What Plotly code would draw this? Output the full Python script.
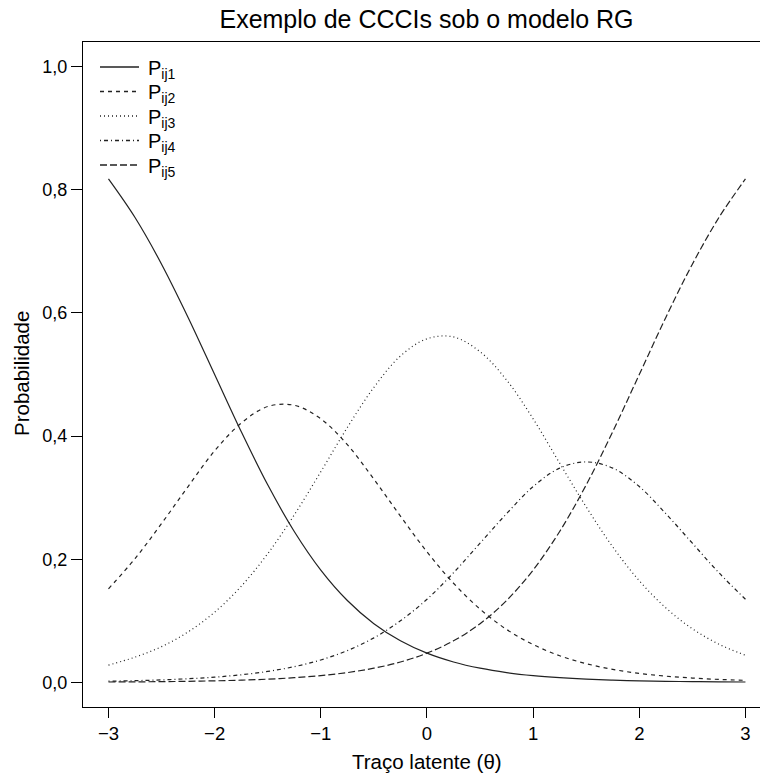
import plotly.graph_objects as go

theta = [-3.0, -2.75, -2.5, -2.25, -2.0, -1.75, -1.5, -1.25, -1.0, -0.75, -0.5, -0.25,
         0.0, 0.25, 0.5, 0.75, 1.0, 1.25, 1.5, 1.75, 2.0, 2.25, 2.5, 2.75, 3.0]

p_ij1 = [0.8176, 0.7549, 0.6792, 0.5927, 0.5000, 0.4073, 0.3208, 0.2451, 0.1824, 0.1330, 0.0953, 0.0675,
         0.0474, 0.0331, 0.0230, 0.0159, 0.0110, 0.0076, 0.0052, 0.0036, 0.0025, 0.0017, 0.0012, 0.0008, 0.0006]
p_ij2 = [0.152, 0.201, 0.258, 0.318, 0.376, 0.421, 0.448, 0.450, 0.428, 0.386, 0.330, 0.270,
         0.212, 0.161, 0.119, 0.086, 0.0614, 0.0433, 0.0304, 0.0211, 0.0146, 0.0101, 0.0070, 0.0048, 0.0033]
p_ij3 = [0.028, 0.041, 0.058, 0.082, 0.114, 0.156, 0.209, 0.272, 0.342, 0.414, 0.479, 0.530,
         0.558, 0.561, 0.537, 0.491, 0.428, 0.356, 0.285, 0.220, 0.165, 0.121, 0.087, 0.062, 0.044]
p_ij4 = [0.0019, 0.0028, 0.0040, 0.0059, 0.0085, 0.0123, 0.0178, 0.0255, 0.0364, 0.0516, 0.0723, 0.0999,
         0.135, 0.178, 0.226, 0.274, 0.318, 0.348, 0.358, 0.348, 0.318, 0.274, 0.226, 0.178, 0.135]
p_ij5 = [0.0006, 0.0008, 0.0012, 0.0017, 0.0025, 0.0036, 0.0052, 0.0076, 0.0110, 0.0159, 0.0230, 0.0331,
         0.0474, 0.0675, 0.0953, 0.1330, 0.1824, 0.2451, 0.3208, 0.4073, 0.5000, 0.5927, 0.6792, 0.7549, 0.8176]

series_names = ["P<sub>ij1</sub>", "P<sub>ij2</sub>", "P<sub>ij3</sub>", "P<sub>ij4</sub>", "P<sub>ij5</sub>"]
series_values = [p_ij1, p_ij2, p_ij3, p_ij4, p_ij5]
dashes = ["solid", "4px,4px", "1px,3px", "1px,3px,4px,3px", "7px,3px"]

x_tick_vals = [-3, -2, -1, 0, 1, 2, 3]
x_tick_text = ["\u22123", "\u22122", "\u22121", "0", "1", "2", "3"]
y_tick_vals = [0.0, 0.2, 0.4, 0.6, 0.8, 1.0]
y_tick_text = ["0,0", "0,2", "0,4", "0,6", "0,8", "1,0"]

FONT = "Liberation Sans, Arial, sans-serif"
LINE_COLOR = "#222222"

W, H = 760, 773
pl, pr, pt, pb = 83, 0, 42, 66
pw, ph = W - pl - pr, H - pt - pb


def px_x(xp):
    return (xp - pl) / pw


def px_y(yp):
    return (H - pb - yp) / ph


fig = go.Figure()
for name, vals, dash in zip(series_names, series_values, dashes):
    fig.add_trace(go.Scatter(
        x=theta, y=vals, mode="lines", name=name,
        line=dict(color=LINE_COLOR, width=1.2, dash=dash, shape="spline", smoothing=1.0),
    ))

# Legend (R-style, no box), built from the series names and line styles
shapes = []
annotations = []
row0, row_gap = 67, 24.5
for i, (name, dash) in enumerate(zip(series_names, dashes)):
    yrow = row0 + i * row_gap
    shapes.append(dict(type="line", xref="paper", yref="paper",
                       x0=px_x(100), x1=px_x(139), y0=px_y(yrow), y1=px_y(yrow),
                       line=dict(color=LINE_COLOR, width=1.3, dash=dash)))
    annotations.append(dict(text=name, xref="paper", yref="paper",
                            x=px_x(146), y=px_y(yrow + 2), xanchor="left", yanchor="middle",
                            showarrow=False, font=dict(size=20, family=FONT, color="black")))

annotations.append(dict(text="Traço latente (θ)", xref="paper", yref="paper",
                        x=px_x(426.5), y=px_y(761), xanchor="center", yanchor="middle",
                        showarrow=False, font=dict(size=20.5, family=FONT, color="black")))
annotations.append(dict(text="Probabilidade", xref="paper", yref="paper",
                        x=px_x(22), y=px_y(374), xanchor="center", yanchor="middle",
                        textangle=-90, showarrow=False,
                        font=dict(size=20.5, family=FONT, color="black")))

fig.update_layout(
    width=W, height=H,
    margin=dict(l=pl, r=pr, t=pt, b=pb),
    paper_bgcolor="white", plot_bgcolor="white",
    font=dict(family=FONT, color="black", size=18),
    showlegend=False,
    title=dict(
        text="Exemplo de CCCIs sob o modelo RG",
        x=426.5 / W, xanchor="center", xref="container",
        y=1 - 19 / H, yanchor="middle", yref="container",
        font=dict(size=25, family=FONT, color="black"),
    ),
    xaxis=dict(
        range=[-3.24, 3.137], showgrid=False, zeroline=False,
        showline=True, linecolor="black", linewidth=1.3, mirror=True,
        ticks="outside", ticklen=10, tickwidth=1.3, tickcolor="black",
        tickvals=x_tick_vals, ticktext=x_tick_text,
        tickfont=dict(size=18.5, family=FONT),
    ),
    yaxis=dict(
        range=[-0.04, 1.04], showgrid=False, zeroline=False,
        showline=True, linecolor="black", linewidth=1.3,
        ticks="outside", ticklen=11, tickwidth=1.3, tickcolor="black",
        tickvals=y_tick_vals, ticktext=y_tick_text,
        tickfont=dict(size=18, family=FONT),
    ),
    shapes=shapes,
    annotations=annotations,
)

fig.write_html("out.html", config={"displayModeBar": False},
               post_script="document.body.style.margin='0';")
